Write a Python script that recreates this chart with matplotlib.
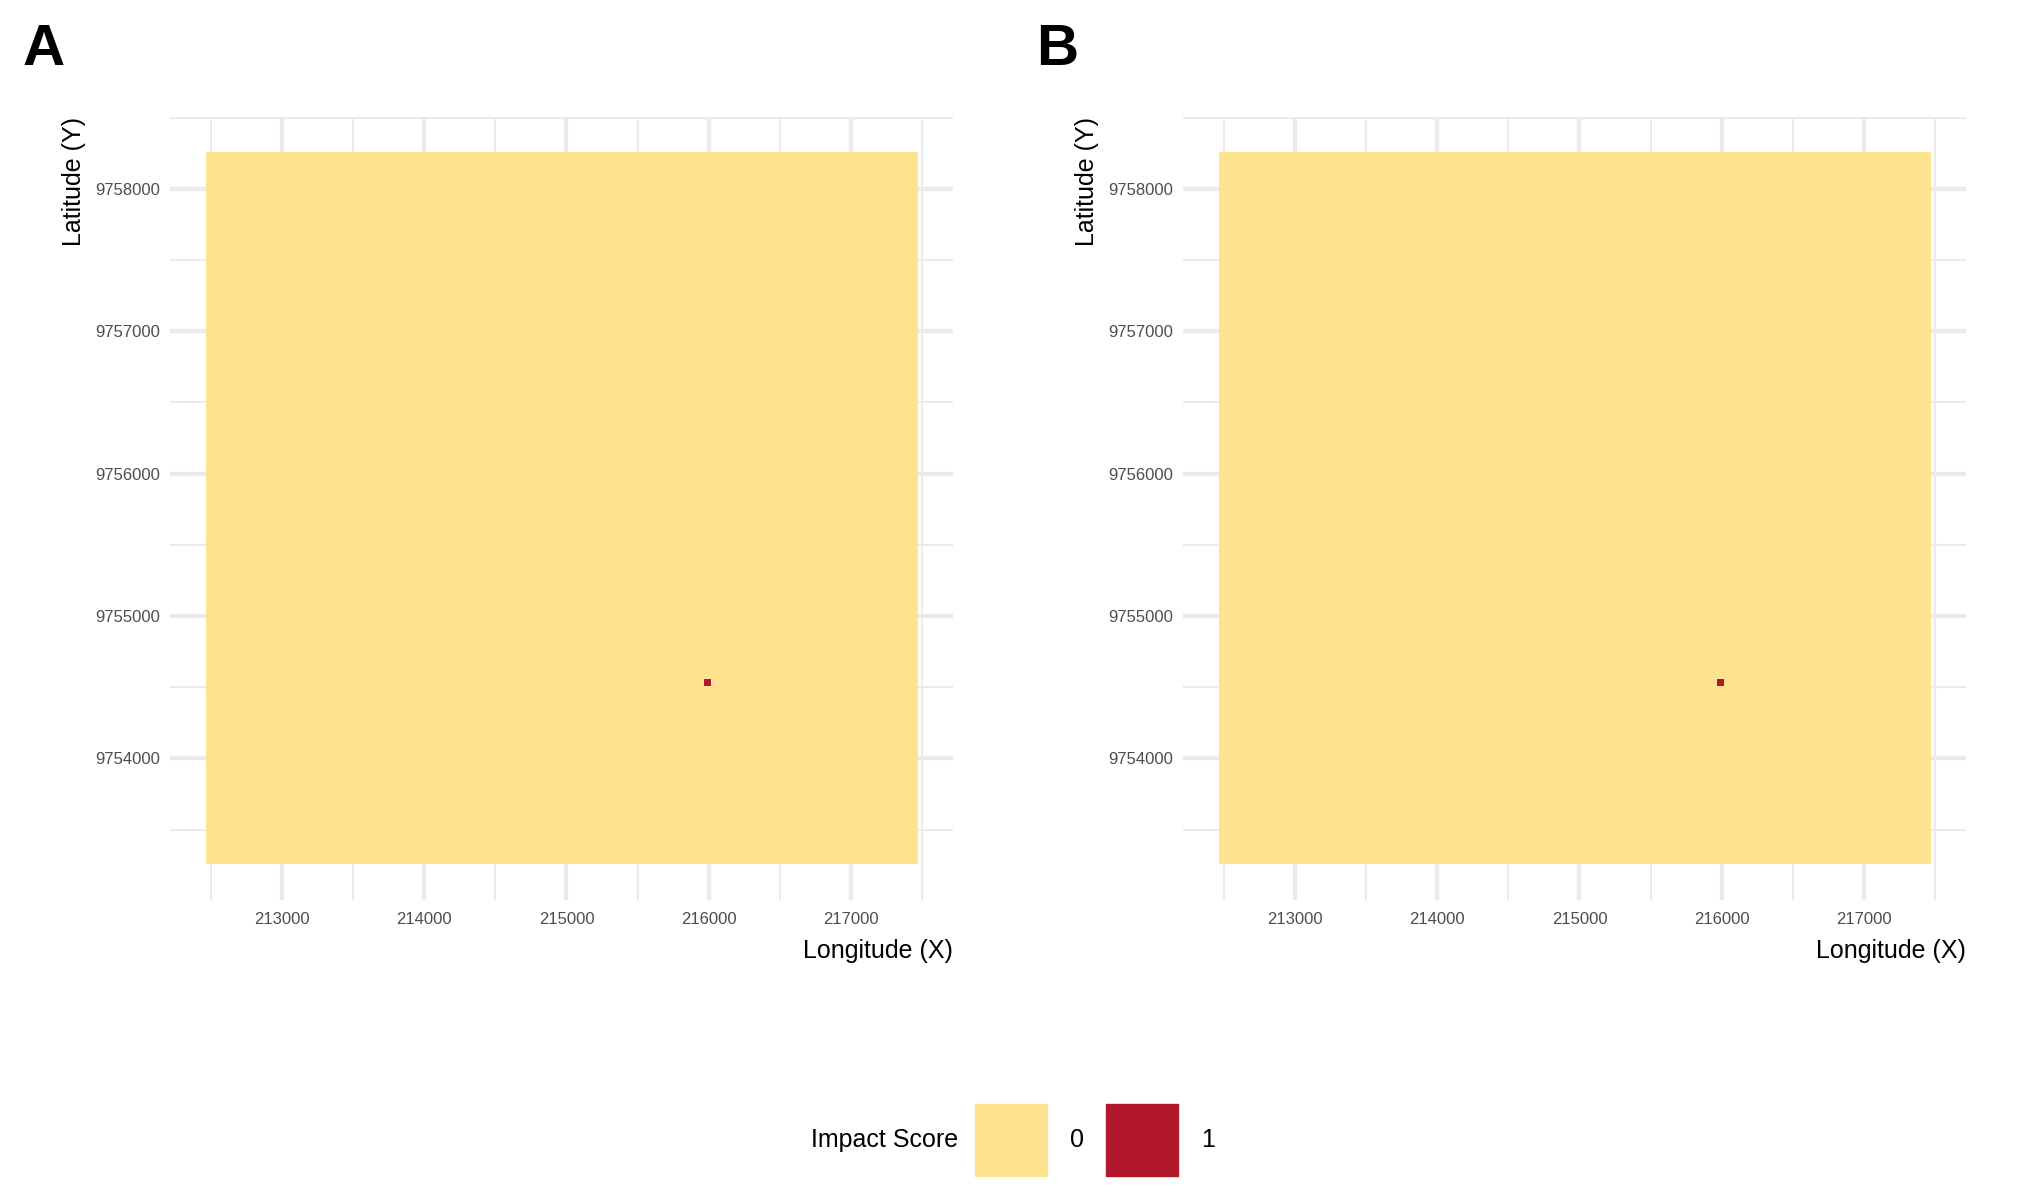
import numpy as np
import matplotlib.pyplot as plt
from matplotlib.colors import ListedColormap
from matplotlib.patches import Rectangle
from matplotlib.ticker import MultipleLocator, StrMethodFormatter

plt.rcParams['font.family'] = ['Liberation Sans', 'DejaVu Sans']

# raster extent (UTM metres), 50 m cells
x_min, x_max = 212465, 217465
y_min, y_max = 9753255, 9758255
cell = 50

# cells with impact score 1 (cell centres), same in both panels
hot_x = [215990]
hot_y = [9754530]

panel_labels = ["A", "B"]
score_levels = [0, 1]
score_colors = ["#FEE391", "#B2182B"]

# build the score grid
nx = (x_max - x_min) // cell
ny = (y_max - y_min) // cell
scores = np.zeros((ny, nx))
for hx, hy in zip(hot_x, hot_y):
    scores[int((hy - y_min) // cell), int((hx - x_min) // cell)] = 1

W, H = 2025, 1200
fig = plt.figure(figsize=(W / 100, H / 100), dpi=100)

cmap = ListedColormap(score_colors)
pad_x = 0.05 * (x_max - x_min)
pad_y = 0.05 * (y_max - y_min)

lefts = [170, 1183]
for left, lab in zip(lefts, panel_labels):
    ax = fig.add_axes([left / W, (H - 900) / H, 783 / W, 783 / H])
    ax.imshow(scores, origin="lower", extent=[x_min, x_max, y_min, y_max],
              cmap=cmap, vmin=-0.5, vmax=1.5, interpolation="nearest",
              aspect="auto", zorder=2)
    ax.set_xlim(x_min - pad_x, x_max + pad_x)
    ax.set_ylim(y_min - pad_y, y_max + pad_y)

    ax.xaxis.set_major_locator(MultipleLocator(1000))
    ax.xaxis.set_minor_locator(MultipleLocator(500))
    ax.yaxis.set_major_locator(MultipleLocator(1000))
    ax.yaxis.set_minor_locator(MultipleLocator(500))
    ax.xaxis.set_major_formatter(StrMethodFormatter("{x:.0f}"))
    ax.yaxis.set_major_formatter(StrMethodFormatter("{x:.0f}"))

    ax.set_axisbelow(True)
    ax.grid(which="major", color="#EBEBEB", linewidth=3.1)
    ax.grid(which="minor", color="#EBEBEB", linewidth=1.5)
    for s in ax.spines.values():
        s.set_visible(False)
    ax.tick_params(which="both", length=0)
    ax.tick_params(which="major", labelsize=12, labelcolor="#4D4D4D")
    ax.tick_params(axis="x", which="major", pad=9)
    ax.tick_params(axis="y", which="major", pad=7)

    ax.set_xlabel("Longitude (X)", loc="right", fontsize=18, labelpad=8.5)
    ax.set_ylabel("Latitude (Y)", loc="top", fontsize=18, labelpad=7)

    fig.text((left - 147) / W, 1 - 65 / H, lab, fontsize=42,
             fontweight="bold", ha="left", va="baseline")

# legend
fig.text(958 / W, 1 - 1140 / H, "Impact Score", fontsize=18,
         ha="right", va="center")
for i, (lvl, col) in enumerate(zip(score_levels, score_colors)):
    kx = 975 + i * 131
    fig.add_artist(Rectangle((kx / W, 1 - 1176 / H), 72 / W, 72 / H,
                             transform=fig.transFigure, color=col))
    fig.text((kx + 102) / W, 1 - 1140 / H, str(lvl), fontsize=18,
             ha="center", va="center")

plt.savefig("out.png", dpi=100)
